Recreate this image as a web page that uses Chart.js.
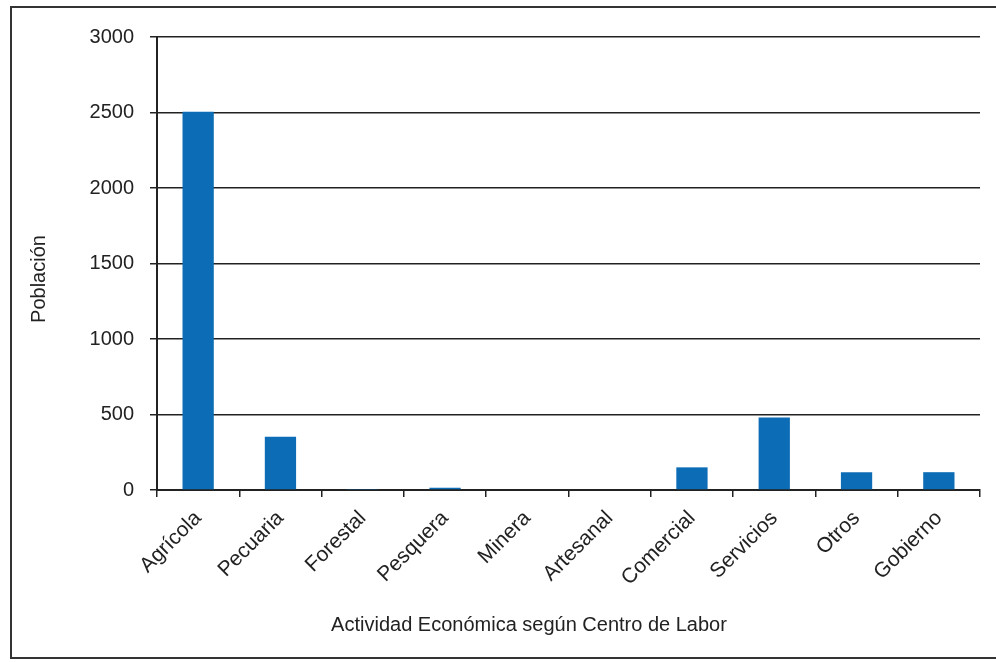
<!DOCTYPE html>
<html>
<head>
<meta charset="utf-8">
<script src="https://cdn.jsdelivr.net/npm/chart.js@4"></script>
<style>
  html, body { margin: 0; padding: 0; background: #fff; }
  #wrap { width: 996px; height: 662px; }
</style>
</head>
<body>
<div id="wrap"><canvas id="chart"></canvas></div>
<script>
// Actividad económica según centro de labor
const categories = ['Agrícola', 'Pecuaria', 'Forestal', 'Pesquera', 'Minera', 'Artesanal', 'Comercial', 'Servicios', 'Otros', 'Gobierno'];
const poblacion = [2505, 352, 3, 15, 0, 0, 150, 480, 118, 118];
const yTicks = [0, 500, 1000, 1500, 2000, 2500, 3000];
const xTitle = 'Actividad Económica según Centro de Labor';
const yTitle = 'Población';

const FONT = "'Liberation Sans', Arial, sans-serif";
const INK = '#222';
const BAR = '#0d6cb6';

// marco exterior y títulos de ejes (centrados como en el original, no sobre el área)
const frame = {
  id: 'frame',
  afterDraw(chart) {
    const c = chart.ctx;
    c.save();
    c.strokeStyle = '#333';
    c.lineWidth = 2;
    c.beginPath();
    c.moveTo(996, 7); c.lineTo(11, 7); c.lineTo(11, 658); c.lineTo(996, 658);
    c.stroke();

    c.fillStyle = INK;
    c.font = `20px ${FONT}`;
    c.textAlign = 'center';
    c.textBaseline = 'middle';
    c.fillText(xTitle, 529, 625);
    c.translate(39, 279);
    c.rotate(-Math.PI / 2);
    c.fillText(yTitle, 0, 0);
    c.restore();
  },
};

new Chart(document.getElementById('chart'), {
  type: 'bar',
  data: {
    labels: categories,
    datasets: [{
      data: poblacion,
      backgroundColor: BAR,
      categoryPercentage: 1,
      barPercentage: 0.38,
    }],
  },
  options: {
    responsive: true,
    maintainAspectRatio: false,
    animation: false,
    layout: { padding: { left: 11, top: 37, right: 16, bottom: 0 } },
    plugins: { legend: { display: false }, tooltip: { enabled: false } },
    scales: {
      x: {
        afterFit: s => { s.height = 172; },
        grid: { display: true, drawOnChartArea: false, offset: true, color: INK, lineWidth: 1.5, tickLength: 7 },
        border: { color: INK, width: 2 },
        ticks: { color: INK, font: { family: FONT, size: 21 }, minRotation: 45, maxRotation: 45, padding: 9 },
      },
      y: {
        min: 0,
        max: 3000,
        afterFit: s => { s.width = 146; },
        afterBuildTicks: s => { s.ticks = yTicks.map(v => ({ value: v })); },
        grid: { color: INK, lineWidth: 1.5, tickLength: 7 },
        border: { color: INK, width: 2 },
        ticks: { color: INK, font: { family: FONT, size: 20 }, padding: 16, callback: v => String(v) },
      },
    },
  },
  plugins: [frame],
});
</script>
</body>
</html>
